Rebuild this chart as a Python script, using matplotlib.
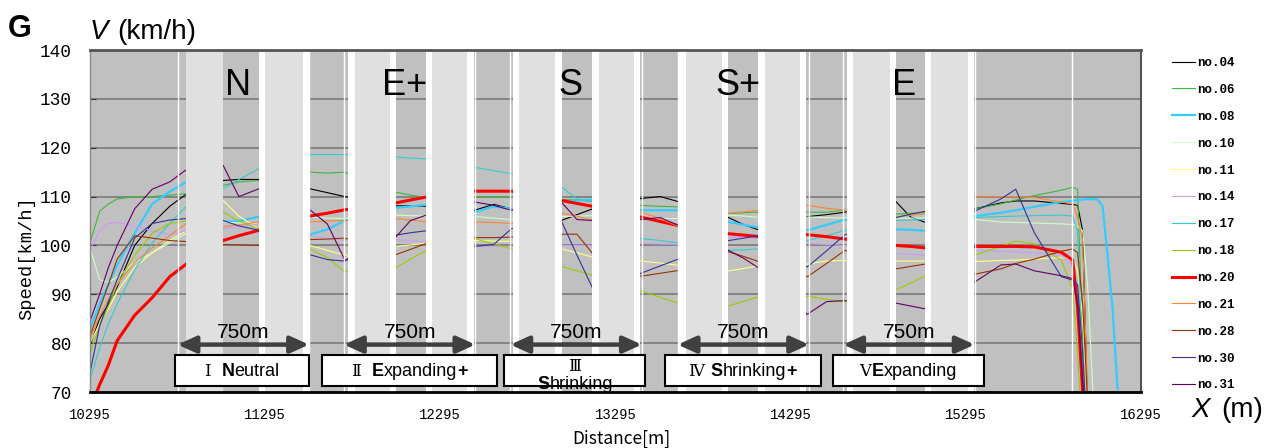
import numpy as np
import matplotlib.pyplot as plt
from matplotlib.patches import Rectangle
from matplotlib.offsetbox import TextArea, HPacker, VPacker, AnnotationBbox

# ---- data --------------------------------------------------------------
dist = [10295, 10350, 10400, 10450, 10550, 10650, 10750, 10845,
        11055, 11145, 11260,
        11550, 11650, 11750,
        12040, 12125, 12215,
        12490, 12600, 12700,
        12985, 13075, 13165,
        13440, 13550, 13660,
        13940, 14030, 14120,
        14390, 14500, 14605,
        14895, 14980, 15065,
        15345, 15495, 15580, 15686, 15840, 15905, 15933, 15962, 15990,
        16048, 16076, 16105, 16133, 16162]

no04 = [79.5, 85, 88, 91.5, 100, 104.5, 108, 110.5,
        113.3, 113.5, 113.5, 111.6, 110.8, 110, 108.1, 108.1, 108,
        107.2, 108.4, 107.5, 105.1, 106.3, 107.5, 109.6, 110, 108.9,
        105.7, 104.2, 103.1, 105.9, 106.3, 106.8, 109, 105.8, 104.7,
        107.5, 108.7, 109.1, 109.1, 108.6, 108.4, 108.2, 103, 66,
        40, 40, 40, 40, 40]
no06 = [100.5, 107, 108.5, 109.5, 110, 110, 110.3, 110.6,
        112.3, 113, 113.3, 115, 114.8, 115, 110.9, 110.3, 109.8,
        109.9, 109.9, 109.9, 109.4, 109.3, 109, 108.2, 108, 107.9,
        106.5, 106.7, 106.8, 106.8, 106.8, 107.2, 106.4, 106.6, 106.7,
        107.5, 108.5, 109.3, 110.2, 111.3, 111.9, 111.5, 80, 55,
        40, 40, 40, 40, 40]
no08 = [83, 88, 92, 96, 102.5, 108.5, 111, 113,
        104.8, 105, 105.9, 102.2, 103.3, 105.1, 107.7, 108, 108.3,
        106.8, 108, 107.5, 109, 109.2, 109.4, 107.2, 107.2, 107.2,
        104.8, 104.2, 103.6, 103.1, 104.2, 105.3, 103.3, 103.2, 103,
        106, 106.7, 107.2, 107.9, 108.9, 109.1, 109.3, 109.4, 109.5,
        109.4, 108, 97.6, 87, 70]
no10 = [99.5, 93, 92.5, 93.5, 96.5, 98.5, 100.5, 102.5,
        104.8, 104.6, 104.4, 105.8, 105.6, 105.5, 106.2, 106.1, 106,
        105.9, 105.6, 105.3, 105.9, 106, 106.1, 105.5, 105.5, 105.5,
        106.2, 106, 105.7, 105.8, 105.7, 105.6, 105.6, 105.6, 105.6,
        105.3, 104.8, 104.7, 104.6, 104.4, 104.3, 104, 103, 92,
        50, 40, 40, 40, 40]
no11 = [80, 84, 87, 90.5, 95.5, 98.5, 101, 103,
        109.2, 106, 103.4, 100, 99, 98, 99.8, 100.1, 100.5,
        101, 100.9, 100.8, 99.3, 98.5, 97.6, 96.8, 96.4, 95.9,
        94.8, 95.3, 95.9, 96.2, 96.8, 96.9, 96.8, 96.8, 96.8,
        96.7, 96.9, 97, 97.2, 97.5, 97.2, 95, 85, 68,
        40, 40, 40, 40, 40]
no14 = [99, 103, 104.5, 104.7, 104, 103, 102.2, 103,
        103.4, 103.8, 104.4, 101.9, 101.5, 101, 101.2, 101, 100.7,
        99.8, 99.8, 99.8, 100, 100, 100, 100.4, 100.3, 100.2,
        101.7, 101.6, 101.5, 100.4, 100.2, 100, 98.3, 98.2, 98,
        99, 98.8, 98.7, 98.5, 98, 96, 90, 72, 55,
        40, 40, 40, 40, 40]
no17 = [72.5, 79, 84, 88, 95, 100.5, 104.5, 108,
        111.6, 113.5, 115.7, 118.6, 118.6, 118.6, 118.1, 117.9, 117.7,
        116, 115.3, 114.7, 112, 109.5, 109, 101.4, 101, 100.5,
        99, 99.1, 99.3, 101, 102, 103.1, 105.1, 105.2, 105.3,
        105.7, 105.9, 106, 106.1, 106.2, 106, 103, 75, 55,
        40, 40, 40, 40, 40]
no18 = [78, 83.5, 87.5, 92, 98, 102.5, 104.5, 105,
        106.8, 105, 103.4, 99.3, 97.5, 94.6, 95.4, 97.2, 99,
        101.4, 100.3, 99.3, 95.7, 94.8, 93.9, 90.7, 89.4, 88.1,
        87.6, 88.6, 89.6, 89.6, 89, 88.4, 90.9, 92.3, 93.8,
        98, 99.8, 100.9, 100.3, 97, 91, 78, 60, 50,
        40, 40, 40, 40, 40]
no20 = [66.5, 71.5, 75.5, 80.5, 85.7, 89.3, 93.6, 96.2,
        101, 102, 103.1, 106, 106.6, 107.3, 108.7, 109.3, 109.9,
        111.1, 111.1, 111.1, 109.2, 108.6, 108, 105.8, 104.9, 104,
        102.4, 102.1, 101.8, 102.2, 101.8, 101.3, 100, 99.8, 99.5,
        99.8, 99.8, 99.8, 99.7, 98.6, 97, 87.4, 70, 55,
        40, 40, 40, 40, 40]
no21 = [81, 85.5, 89, 92, 96.5, 99.5, 102, 104.5,
        103.8, 104.2, 104.8, 104.8, 105, 105.1, 105.5, 105.2, 104.8,
        104.8, 104.7, 104.5, 106.6, 106, 105.1, 106.8, 105.5, 103.8,
        106.6, 106.9, 107.2, 108.2, 107.6, 107.2, 105.8, 106.2, 106.5,
        109.9, 110, 110, 109.8, 108.9, 108.5, 105.8, 101, 69,
        40, 40, 40, 40, 40]
no28 = [81.5, 87, 92, 97.2, 102, 101.5, 101, 100.8,
        100.2, 100.1, 100, 101.2, 101.3, 101.5, 98.1, 99.2, 100.4,
        101.6, 101.6, 101.7, 102.3, 102.3, 98.3, 93.7, 94.3, 94.9,
        98.7, 97.7, 96.6, 93.6, 96.3, 99, 95.2, 95.7, 96.2,
        94.1, 95.2, 96.3, 97.2, 98.8, 99.3, 98.5, 88, 68,
        40, 40, 40, 40, 40]
no30 = [74, 83.5, 88.5, 93, 101.5, 104.5, 105.2, 105.5,
        105.1, 104, 103.1, 98.1, 97.1, 96.8, 102.1, 102.6, 103,
        99.8, 100.2, 103.4, 105.1, 98, 91.2, 94.3, 95.8, 97.3,
        101, 101.5, 102.1, 95.6, 98.9, 102.2, 105.7, 106.4, 107,
        107, 109.5, 111.5, 102.6, 93.6, 92.9, 92, 78, 60,
        40, 40, 40, 40, 40]
no31 = [84.5, 90, 95.5, 100, 107.5, 111.5, 113, 115.5,
        116.4, 110, 111.6, 107.3, 104.4, 97, 101.7, 105.1, 106.2,
        108.9, 108.2, 107.2, 108.9, 105.3, 105.1, 105.3, 105.7, 104,
        99, 97.3, 95.2, 85.9, 88.5, 88.7, 88.2, 87.6, 87,
        92.5, 96, 96.2, 94.8, 93.8, 93.2, 88, 72, 55,
        40, 40, 40, 40, 40]

series_names = ["no.04", "no.06", "no.08", "no.10", "no.11", "no.14", "no.17",
                "no.18", "no.20", "no.21", "no.28", "no.30", "no.31"]
series_data = [no04, no06, no08, no10, no11, no14, no17,
               no18, no20, no21, no28, no30, no31]

# measurement sections (start in m, each 750 m long)
section_start = [10795, 11745, 12695, 13650, 14595]
section_len = 750
section_tag = ["N", "E+", "S", "S+", "E"]
gantry = 15900

# light gray masking bands (m)
bands = [(10845, 11055), (11295, 11512), (11805, 12005), (12250, 12450),
         (12746, 12952), (13198, 13398), (13695, 13901), (14146, 14346),
         (14649, 14861), (15095, 15306)]

# label boxes (m)
boxes = [(10781, 11546), (11621, 12621), (12661, 13466), (13575, 14467), (14535, 15398)]

x_ticks = [10295, 11295, 12295, 13295, 14295, 15295, 16295]
y_ticks = [70, 80, 90, 100, 110, 120, 130, 140]

# ---- styles --------------------------------------------------------------
colors = ['black', '#3cb83c', '#33ccff', '#ccffcc', '#ffff88', '#cc99ff', '#33cccc',
          '#99cc00', '#ff0000', '#ff8533', '#993300', '#333399', '#660066']
widths = [0.8, 0.8, 1.6, 0.8, 0.8, 0.8, 0.8, 0.8, 2.2, 0.8, 0.8, 0.8, 0.8]

W, H = 1277, 448
fig = plt.figure(figsize=(W / 100, H / 100), dpi=100)
ax = fig.add_axes([90 / W, (H - 392) / H, 1051 / W, 342 / H])
ax.set_facecolor('#c0c0c0')

for name, data, c, lw in zip(series_names, series_data, colors, widths):
    ax.plot(dist, data, color=c, lw=lw, label=name, zorder=3)

ax.set_xlim(10295, 16295)
ax.set_ylim(70, 140)
ax.set_axisbelow(True)
ax.yaxis.grid(True, color='#7f7f7f', lw=1.3)

# white section lines
for s in section_start:
    ax.axvline(s, color='white', lw=1, zorder=4)
    ax.axvline(s + section_len, color='white', lw=1, zorder=4)
ax.axvline(gantry, color='white', lw=1, zorder=4)

# bands with white halo
for i, (a, b) in enumerate(bands):
    if i > 0:
        ax.axvspan(a - 35, b + 35, color='white', lw=0, zorder=5)
    ax.axvspan(a, b, color='#e0e0e0', lw=0, zorder=6)

# section tags, arrows, 750m
for s, tag in zip(section_start, section_tag):
    ax.text(s + section_len / 2 - 30, 132.8, tag, fontsize=26, ha='center', va='center',
            family='Liberation Sans', zorder=7)
    ax.annotate('', xy=(s + section_len, 79.7), xytext=(s, 79.7),
                arrowprops=dict(arrowstyle='<|-|>,head_length=1.1,head_width=0.5',
                                lw=3.2, color='#404040', shrinkA=0, shrinkB=0,
                                mutation_scale=10), zorder=7)
    ax.text(s + section_len / 2, 82.2, '750m', fontsize=15, ha='center', va='center',
            family='Liberation Sans', zorder=7)

for b0, b1 in boxes:
    ax.add_patch(Rectangle((b0, 71.3), b1 - b0, 6.3, facecolor='white',
                           edgecolor='black', lw=1.5, zorder=8, clip_on=False))

roman = dict(fontsize=12, family=['DejaVu Serif', 'Noto Sans CJK JP'])
plain = dict(fontsize=13, family='Liberation Sans')
bold = dict(fontsize=13, family='Liberation Sans', weight='bold')


def row(parts):
    return HPacker(children=[TextArea(s, textprops=p) for s, p in parts],
                   sep=0, pad=0, align='baseline')


box_texts = [
    row([('Ⅰ  ', roman), ('N', bold), ('eutral', plain)]),
    row([('Ⅱ  ', roman), ('E', bold), ('xpanding', plain), ('+', bold)]),
    VPacker(children=[row([('Ⅲ', roman)]), row([('S', bold), ('hrinking', plain)])],
            sep=1, pad=0, align='center'),
    row([('Ⅳ ', roman), ('S', bold), ('hrinking', plain), ('+', bold)]),
    row([('Ⅴ', roman), ('E', bold), ('xpanding', plain)]),
]
for (b0, b1), pack in zip(boxes, box_texts):
    yc = 74.1 if not isinstance(pack, VPacker) else 73.4
    ab = AnnotationBbox(pack, ((b0 + b1) / 2, yc), frameon=False, pad=0,
                        box_alignment=(0.5, 0.5), annotation_clip=False)
    ab.set_zorder(9)
    ax.add_artist(ab)

# axes decorations
ax.set_xticks(x_ticks, labels=[str(v) for v in x_ticks], family='Liberation Mono', fontsize=10)
ax.set_yticks(y_ticks, labels=[str(v) for v in y_ticks], family='Liberation Mono', fontsize=12.8)
ax.tick_params(axis='x', length=0, pad=11.5)
ax.tick_params(axis='y', direction='in', length=4, color='#333333', pad=13)

ax.spines['top'].set_color('#555555')
ax.spines['top'].set_linewidth(2)
ax.spines['bottom'].set_color('black')
ax.spines['bottom'].set_linewidth(2)
ax.spines['left'].set_color('#888888')
ax.spines['left'].set_linewidth(1)
ax.spines['right'].set_color('#555555')
ax.spines['right'].set_linewidth(1.5)
for sp in ax.spines.values():
    sp.set_zorder(10)

ax.set_xlabel('Distance[m]', family='Noto Sans CJK JP', fontsize=12.5, va='top')
ax.xaxis.set_label_coords(0.5 + 6 / 1051, -38 / 342)
ax.set_ylabel('Speed[km/h]', family='Liberation Mono', fontsize=13.5)
ax.yaxis.set_label_coords(-55 / 1051, 0.5 - 37 / 342)

ax.legend(loc='upper left', bbox_to_anchor=((1172 - 90) / 1051, (392 - 57) / 342),
          frameon=False, borderpad=0, borderaxespad=0, handlelength=1.85,
          handletextpad=0.15, labelspacing=1.19,
          prop=dict(family='Liberation Mono', weight='bold', size=9))

fig.text(8 / W, 1 - 37 / H, 'G', fontsize=22, weight='bold', family='Liberation Sans',
         va='baseline', ha='left')
fig.text(90 / W, 1 - 39 / H, 'V', fontsize=20, style='italic', family='Liberation Sans',
         va='baseline', ha='left')
fig.text(117 / W, 1 - 39 / H, '(km/h)', fontsize=20, family='Liberation Sans',
         va='baseline', ha='left')
fig.text(1192 / W, 1 - 417 / H, 'X', fontsize=20, style='italic', family='Liberation Sans',
         va='baseline', ha='left')
fig.text(1221 / W, 1 - 417 / H, '(m)', fontsize=20, family='Liberation Sans',
         va='baseline', ha='left')

fig.savefig('out.png', dpi=100)
